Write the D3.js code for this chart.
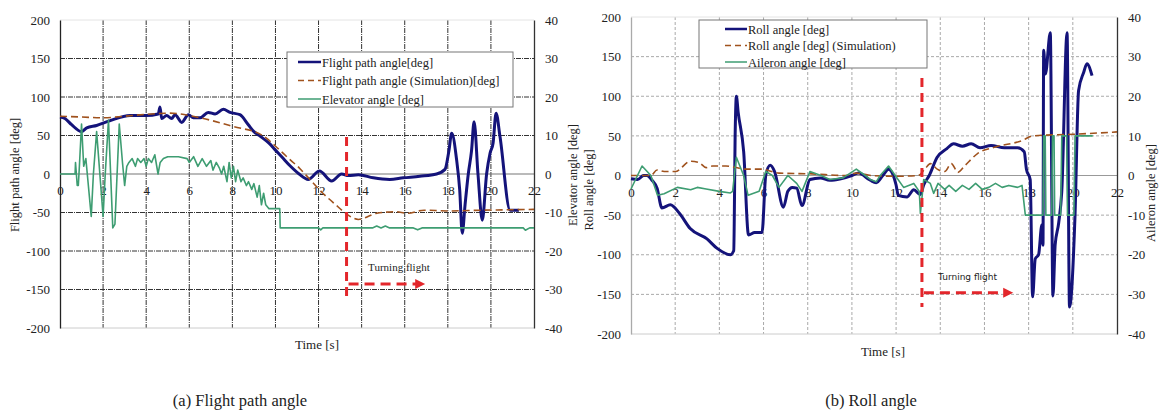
<!DOCTYPE html>
<html>
<head>
<meta charset="utf-8">
<script src="https://cdn.jsdelivr.net/npm/d3@7"></script>
<style>
  body { margin: 0; background: #fff; }
  svg text { font-family: "Liberation Serif", "DejaVu Serif", serif; fill: #222; }
</style>
</head>
<body>
<svg id="chart" width="1163" height="413"></svg>
<script>
// tick values
const timeTicks = d3.range(0, 23, 2);
const angleTicks = d3.range(-200, 201, 50);
const surfaceTicks = d3.range(-40, 41, 10);

// (a) flight path angle, [time s, deg]
const flightPathAngle = [[0,74],[0.23,72],[0.54,64],[1.0,55],[1.24,60],[1.7,63],[2.3,69],[3.25,76],[4.0,76],[4.56,78],[4.64,87],[4.72,72],[4.95,76],[5.18,72],[5.34,77],[5.65,67],[5.96,77],[6.19,73],[6.5,73],[6.88,80],[7.2,78],[7.58,84],[7.89,80],[8.35,77],[8.74,64],[9.0,55],[9.3,49],[9.7,40],[10.0,31],[10.3,22],[10.7,10],[11.1,0],[11.52,-7],[12.04,4],[12.61,-9],[13.07,0],[13.38,-2],[13.85,-1],[14.54,-5],[15.3,-7],[15.93,-5],[16.7,-3],[17.48,0],[17.87,6],[18.05,30],[18.18,53],[18.41,18],[18.55,-20],[18.67,-77],[18.8,-40],[18.95,0],[19.1,30],[19.22,68],[19.4,0],[19.6,-60],[19.8,0],[19.96,27],[20.1,40],[20.24,79],[20.42,49],[20.89,-47],[21.3,-47]];
const flightPathSim = [[0,75],[1,74],[2,73],[3,75],[4,77.5],[5.1,79],[6.5,73],[8.0,62],[9.4,50],[10.2,31],[10.7,18],[11.1,8],[11.37,0],[12.2,-25],[12.8,-40],[13.3,-52],[13.85,-59],[14.7,-51],[15.6,-49],[16.1,-51],[16.9,-47],[18,-48],[19.6,-47],[22,-46]];
const elevatorAngle = [[0,0],[0.7,0],[0.72,3],[0.8,-3],[0.85,-3],[0.9,2],[1.0,13],[1.1,2],[1.2,4],[1.3,-2],[1.45,-11],[1.55,0],[1.7,11],[1.85,0],[2.0,-11],[2.1,0],[2.25,14],[2.35,0],[2.45,-14],[2.55,-13],[2.65,0],[2.75,13],[2.9,3],[3.0,-3],[3.1,2],[3.2,3],[3.35,4],[3.5,2],[3.6,4],[3.75,3],[3.9,4],[4.0,2],[4.1,4],[4.25,3],[4.4,5],[4.55,0],[4.65,3],[4.8,4],[5.0,4.5],[5.5,4.5],[5.9,4],[6.0,3],[6.2,4.5],[6.4,2],[6.6,4],[6.8,2],[7.0,3.5],[7.1,1],[7.25,3],[7.4,1.5],[7.5,0],[7.6,2],[7.75,-2],[7.85,3],[7.95,-1],[8.05,2],[8.15,-2],[8.25,1],[8.4,-2],[8.5,-1],[8.65,-3],[8.75,-2],[8.9,-4],[9.0,-2.5],[9.15,-6],[9.25,-3],[9.35,-8],[9.45,-5],[9.55,-8],[9.7,-9],[10.2,-9],[10.22,-14],[12.0,-14],[12.1,-14.5],[12.2,-14],[14.5,-14],[14.7,-13.5],[14.9,-14],[15.1,-13.5],[15.3,-14],[16.4,-14],[16.6,-14.5],[16.8,-14],[21.5,-14],[21.6,-14.6],[21.8,-14],[22,-14]];

// (b) roll angle, [time s, deg]
const rollAngle = [[0,-4],[0.3,-5],[0.57,0],[0.72,0],[0.95,-6],[1.18,-16],[1.4,-41],[1.78,-37],[2.2,-48],[2.68,-67],[3.44,-80],[3.9,-92],[4.5,-100],[4.65,-95],[4.72,60],[4.77,100],[4.85,80],[5.1,30],[5.32,-75],[5.6,-72],[5.93,-72],[6.1,0],[6.3,13],[6.5,5],[6.9,-40],[7.1,-20],[7.3,-15],[7.5,-16],[7.74,-38],[8.1,-5],[8.57,-3],[9.0,-6],[9.5,-4],[10.0,0],[10.3,3],[10.83,-6],[11.1,-9],[11.4,0],[11.66,8],[12.0,-12],[12.1,-25],[12.5,-27],[12.8,-18],[13.1,-24],[13.25,-12],[13.5,0],[13.86,23],[14.3,34],[14.6,40],[15.0,37],[15.4,40],[15.8,35],[16.3,38],[16.9,35],[17.5,35],[17.8,30],[17.9,8],[18.07,-5],[18.18,-153],[18.3,-105],[18.45,-100],[18.6,-62],[18.65,-88],[18.68,158],[18.76,128],[18.98,180],[19.1,-152],[19.2,-88],[19.36,-60],[19.5,-20],[19.74,180],[19.85,-166],[20.1,-50],[20.26,107],[20.49,130],[20.64,141],[20.87,126]];
const rollSim = [[0,0],[0.9,0],[1.18,7],[1.5,5],[2.0,5],[2.7,18],[3.1,16],[3.4,10],[3.7,12],[4.3,12],[4.75,10],[5.2,8],[5.9,8],[6.7,3],[8.2,2],[9.7,0],[10.2,3],[10.9,0],[12,-1],[13.0,0],[13.3,8],[13.55,15],[13.86,8],[14.2,5],[14.5,15],[14.8,4],[15.1,12],[15.7,28],[16.5,36],[17.7,44],[18.2,50],[20,52],[22,55]];
const aileronAngle = [[0,-3.4],[0.5,2.4],[0.9,0],[1.2,-5],[1.5,-4.6],[2.1,-3],[2.7,-3.6],[3.0,-3],[3.4,-3.4],[4.0,-4],[4.5,-4.4],[4.6,-4],[4.77,4.6],[5.1,0],[5.3,-5],[5.8,-4],[6.1,1],[6.4,0],[6.7,-3],[7.1,0],[7.5,-2],[7.74,-4],[8.1,1],[8.6,0],[9.0,-1],[9.6,-0.6],[10.2,1.6],[10.6,0],[10.83,-1],[11.1,-1.6],[11.28,0],[11.66,2.4],[11.96,0],[12.34,-3],[12.8,-2],[13.05,-4],[13.1,-9.6],[13.2,-4],[13.25,-1],[13.55,-2],[13.7,-4.5],[13.9,-2],[14.2,-3.5],[14.4,-2.5],[14.7,-4],[15.0,-2.5],[15.3,-3.5],[15.6,-2],[15.9,-3.5],[16.2,-3],[16.5,-2],[16.8,-3],[17.1,-2.5],[17.5,-3],[17.7,-2.5],[17.85,-10],[18.65,-10],[18.68,10],[18.75,10],[18.78,-10],[19.05,-10],[19.08,10],[19.15,10],[19.18,-10],[19.45,-10],[19.5,10],[19.72,10],[19.76,-10],[20.05,-10],[20.1,10],[20.9,10]];

class DualAxisChart {
    constructor(_config){
        this.config = _config;
        this.svg = d3.select('#chart');
        this.initVis();
    }

    initVis(){
        let vis = this;
        let c = vis.config;

        vis.xScale = d3.scaleLinear().domain([0, 22]).range([c.left, c.right]);
        vis.yScale = d3.scaleLinear().domain([-200, 200]).range([c.bottom, c.top]);
        vis.y2Scale = d3.scaleLinear().domain([-40, 40]).range([c.bottom, c.top]);

        vis.g = vis.svg.append('g');

        // grid
        vis.g.append('g').selectAll('line').data(angleTicks.filter(d => d !== 0 && d !== 200 && d !== -200))
            .join('line')
            .attr('x1', c.left).attr('x2', c.right)
            .attr('y1', d => vis.yScale(d)).attr('y2', d => vis.yScale(d))
            .attr('stroke', c.gridColor).attr('stroke-width', 1)
            .attr('stroke-dasharray', c.gridDash);
        vis.g.append('g').selectAll('line').data(timeTicks.filter(d => d > 0 && d < 22))
            .join('line')
            .attr('x1', d => vis.xScale(d)).attr('x2', d => vis.xScale(d))
            .attr('y1', c.top).attr('y2', c.bottom)
            .attr('stroke', c.gridColor).attr('stroke-width', 1)
            .attr('stroke-dasharray', c.gridDash);
        // top and bottom borders (light)
        vis.g.append('line').attr('x1', c.left).attr('x2', c.right)
            .attr('y1', vis.yScale(-200)).attr('y2', vis.yScale(-200))
            .attr('stroke', '#ccc');
        vis.g.append('line').attr('x1', c.left).attr('x2', c.right)
            .attr('y1', vis.yScale(200)).attr('y2', vis.yScale(200))
            .attr('stroke', '#e4e4e4');

        // zero line = time axis
        vis.g.append('line').attr('x1', c.left).attr('x2', c.right)
            .attr('y1', vis.yScale(0)).attr('y2', vis.yScale(0))
            .attr('stroke', c.zeroColor).attr('stroke-width', 1.2);

        // axes (plain hyphen for negatives, like the original)
        let plain = d => String(d);
        let leftAxis = d3.axisLeft(vis.yScale).tickValues(angleTicks).tickFormat(plain).tickSize(0).tickPadding(10);
        let rightAxis = d3.axisRight(vis.y2Scale).tickValues(surfaceTicks).tickFormat(plain).tickSize(0).tickPadding(11);
        let timeAxis = d3.axisBottom(vis.xScale).tickValues(timeTicks).tickFormat(plain).tickSize(0).tickPadding(12);

        vis.g.append('g').attr('transform', `translate(${c.left},0)`).call(leftAxis)
            .call(g => g.select('.domain').attr('stroke', c.leftAxisColor).attr('stroke-width', 1.3));
        vis.g.append('g').attr('transform', `translate(${c.right},0)`).call(rightAxis)
            .call(g => g.select('.domain').attr('stroke', '#333').attr('stroke-width', 1.3));
        vis.g.append('g').attr('transform', `translate(0,${vis.yScale(0)})`).call(timeAxis)
            .call(g => g.select('.domain').remove());
        vis.g.selectAll('.tick text')
            .style('font-family', '"Liberation Serif", serif')
            .style('font-size', '13px').attr('fill', '#333');

        // axis titles
        vis.g.append('text')
            .attr('transform', `translate(${c.leftTitleX},${c.leftTitleY}) rotate(-90)`)
            .attr('text-anchor', 'middle').style('font-size', '12.5px')
            .text(c.leftTitle);
        vis.g.append('text')
            .attr('transform', `translate(${c.rightTitleX},${c.rightTitleY}) rotate(-90)`)
            .attr('text-anchor', 'middle').style('font-size', '12.5px')
            .text(c.rightTitle);
        vis.g.append('text')
            .attr('x', c.timeTitleX).attr('y', c.timeTitleY)
            .attr('text-anchor', 'middle').style('font-size', '13px')
            .text('Time [s]');

        vis.renderVis();
    }

    renderVis(){
        let vis = this;
        let c = vis.config;

        c.series.forEach(s => {
            let yS = s.axis === 'right' ? vis.y2Scale : vis.yScale;
            let line = d3.line()
                .x(d => vis.xScale(d[0]))
                .y(d => yS(d[1]))
                .curve(s.smooth ? d3.curveMonotoneX : d3.curveLinear);
            vis.g.append('path')
                .datum(s.data)
                .attr('d', line)
                .attr('fill', 'none')
                .attr('stroke', s.color)
                .attr('stroke-width', s.width)
                .attr('stroke-dasharray', s.dash || null)
                .attr('stroke-linejoin', 'round');
        });

        // turning flight annotation
        let t = c.turn;
        let red = '#e3262b';
        vis.g.append('line')
            .attr('x1', vis.xScale(t.t0)).attr('x2', vis.xScale(t.t0))
            .attr('y1', vis.yScale(t.top)).attr('y2', vis.yScale(t.bottom))
            .attr('stroke', red).attr('stroke-width', 3).attr('stroke-dasharray', '9,6');
        vis.g.append('line')
            .attr('x1', vis.xScale(t.t0) + 2).attr('x2', vis.xScale(t.t1) - 8)
            .attr('y1', vis.yScale(t.arrowY)).attr('y2', vis.yScale(t.arrowY))
            .attr('stroke', red).attr('stroke-width', 3).attr('stroke-dasharray', '10,6');
        let ax = vis.xScale(t.t1), ay = vis.yScale(t.arrowY);
        vis.g.append('path')
            .attr('d', `M${ax - 10},${ay - 5}L${ax},${ay}L${ax - 10},${ay + 5}Z`)
            .attr('fill', red);
        vis.g.append('text')
            .attr('x', vis.xScale(t.labelT)).attr('y', vis.yScale(t.arrowY) - 13)
            .style('font-family', t.labelFont).style('font-size', t.labelSize)
            .text('Turning flight');

        // legend
        let L = c.legend;
        let lg = vis.g.append('g');
        lg.append('rect')
            .attr('x', L.x).attr('y', L.y).attr('width', L.w).attr('height', L.h)
            .attr('fill', '#fff').attr('stroke', '#777').attr('stroke-width', 1);
        c.series.forEach((s, i) => {
            let yy = L.y + L.first + i * L.step;
            lg.append('line')
                .attr('x1', L.x + L.lineX0).attr('x2', L.x + L.lineX1)
                .attr('y1', yy).attr('y2', yy)
                .attr('stroke', s.color).attr('stroke-width', s.width === 3 ? 2.5 : 1.5)
                .attr('stroke-dasharray', s.dash ? '6,4' : null);
            lg.append('text')
                .attr('x', L.x + L.lineX1 + 1).attr('y', yy + 4.5)
                .style('font-size', '12.5px')
                .text(s.label);
        });

        // caption
        vis.svg.append('text')
            .attr('x', c.captionX).attr('y', 406)
            .attr('text-anchor', 'middle')
            .style('font-size', '16.5px').attr('fill', '#111')
            .text(c.caption);
    }
}

const navy = '#14137a';
const brown = '#a0521d';
const green = '#3e9d72';

new DualAxisChart({
    left: 60, right: 534, top: 20, bottom: 328,
    gridColor: '#333', gridDash: '5,1,1,1', zeroColor: '#777', leftAxisColor: '#222',
    leftTitle: 'Flight path angle [deg]', leftTitleX: 19, leftTitleY: 175,
    rightTitle: 'Elevator angle [deg]', rightTitleX: 577, rightTitleY: 175,
    timeTitleX: 317, timeTitleY: 349,
    series: [
        {label: 'Flight path angle[deg]', data: flightPathAngle, axis: 'left', color: navy, width: 3, smooth: true},
        {label: 'Flight path angle (Simulation)[deg]', data: flightPathSim, axis: 'left', color: brown, width: 1.6, dash: '7,4', smooth: true},
        {label: 'Elevator angle [deg]', data: elevatorAngle, axis: 'right', color: green, width: 1.6}
    ],
    legend: {x: 287, y: 52, w: 226, h: 55, first: 10, step: 18.5, lineX0: 11, lineX1: 34},
    turn: {t0: 13.3, t1: 16.95, top: 48, bottom: -160, arrowY: -143, labelT: 14.3, labelFont: '"Liberation Serif", serif', labelSize: '11px'},
    caption: '(a) Flight path angle', captionX: 240
});

new DualAxisChart({
    left: 631, right: 1117, top: 17, bottom: 334,
    gridColor: '#aaa', gridDash: '3,2', zeroColor: '#999', leftAxisColor: '#aaa',
    leftTitle: 'Roll angle [deg]', leftTitleX: 593, leftTitleY: 190,
    rightTitle: 'Aileron angle [deg]', rightTitleX: 1155, rightTitleY: 193,
    timeTitleX: 883, timeTitleY: 356,
    series: [
        {label: 'Roll angle [deg]', data: rollAngle, axis: 'left', color: navy, width: 3, smooth: true},
        {label: 'Roll angle [deg] (Simulation)', data: rollSim, axis: 'left', color: brown, width: 1.6, dash: '7,4', smooth: true},
        {label: 'Aileron angle [deg]', data: aileronAngle, axis: 'right', color: green, width: 1.6}
    ],
    legend: {x: 699, y: 20, w: 228, h: 48, first: 9, step: 16.5, lineX0: 26, lineX1: 48},
    turn: {t0: 13.17, t1: 17.3, top: 123, bottom: -166, arrowY: -148, labelT: 13.9, labelFont: '"DejaVu Sans", sans-serif', labelSize: '9px'},
    caption: '(b) Roll angle', captionX: 871
});
</script>
</body>
</html>
